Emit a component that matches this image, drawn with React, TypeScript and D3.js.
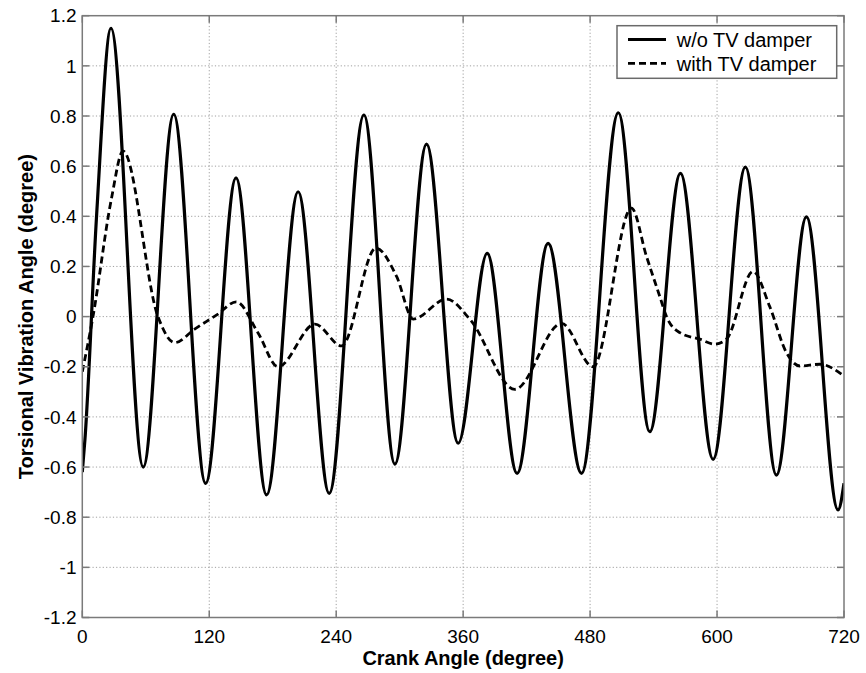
import React, { useEffect } from "react";
import * as d3 from "d3";

const xTicks = [0, 120, 240, 360, 480, 600, 720];
const yTicks = [-1.2, -1, -0.8, -0.6, -0.4, -0.2, 0, 0.2, 0.4, 0.6, 0.8, 1, 1.2];

// w/o TV damper (solid)
const solidX = [0, 2.5, 13.6, 27.1, 57.6, 86.4, 116.6, 145.3, 174.2, 204, 233.4, 266.2, 295.5, 325.4, 355.3, 382.7, 411, 440.3, 471.9, 506.7, 536.4, 565.4, 596.3, 626.8, 656.1, 684.5, 714.4, 720];
const solidY = [-0.62, -0.49, 0.41, 1.15, -0.6, 0.807, -0.665, 0.553, -0.711, 0.498, -0.705, 0.804, -0.588, 0.688, -0.505, 0.252, -0.625, 0.292, -0.625, 0.813, -0.459, 0.571, -0.569, 0.596, -0.632, 0.398, -0.771, -0.665];

// with TV damper (dashed)
const dashedX = [0, 10.1, 27.4, 38.5, 71.5, 87.3, 106.2, 128.2, 145.5, 166, 185, 219.9, 245.1, 277.5, 297.1, 312.8, 344.3, 366.3, 408.9, 453, 482.8, 519.1, 533.3, 545.9, 552.2, 564.8, 583.7, 597.9, 608.9, 634, 649.8, 665.6, 678.2, 697.1, 720];
const dashedY = [-0.22, 0, 0.467, 0.66, 0, -0.104, -0.05, 0.01, 0.059, -0.064, -0.2, -0.03, -0.117, 0.273, 0.16, -0.01, 0.07, -0.01, -0.29, -0.027, -0.2, 0.433, 0.24, 0.08, 0.0, -0.064, -0.09, -0.11, -0.09, 0.18, 0.04, -0.144, -0.197, -0.19, -0.237];

const seriesNames = ["w/o TV damper", "with TV damper"];
const xTitle = "Crank Angle (degree)";
const yTitle = "Torsional Vibration Angle (degree)";

const W = 866;
const H = 673;
const L = 82.3, R = 844, T = 15.7, B = 617.5;

export default function App() {
  useEffect(() => {
    document.body.style.margin = "0";
  }, []);
  const x = d3.scaleLinear().domain([0, 720]).range([L, R]);
  const y = d3.scaleLinear().domain([-1.2, 1.2]).range([B, T]);
  const line = d3
    .line<[number, number]>()
    .x((d) => x(d[0]))
    .y((d) => y(d[1]))
    .curve(d3.curveMonotoneX);
  const solid = solidX.map((v, i) => [v, solidY[i]] as [number, number]);
  const dashed = dashedX.map((v, i) => [v, dashedY[i]] as [number, number]);
  const font = "'Liberation Sans', Arial, Helvetica, sans-serif";
  const frame = "#7a7a7a";
  const grid = "#a0a0a0";
  const fmt = (v: number) => String(Math.round(v * 10) / 10);

  return (
    <svg
      width={W}
      height={H}
      style={{ position: "absolute", left: 0, top: 0, background: "#fff" }}
      fontFamily={font}
    >
      <rect x={0} y={0} width={W} height={H} fill="#fff" />
      <defs>
        <clipPath id="plot">
          <rect x={L} y={T} width={R - L} height={B - T} />
        </clipPath>
      </defs>
      {/* grid */}
      <g stroke={grid} strokeWidth={1} strokeDasharray="1.2,2.2">
        {xTicks.slice(1, -1).map((t) => (
          <line key={"gx" + t} x1={x(t)} x2={x(t)} y1={T} y2={B} />
        ))}
        {yTicks.slice(1, -1).map((t) => (
          <line key={"gy" + t} x1={L} x2={R} y1={y(t)} y2={y(t)} />
        ))}
      </g>
      {/* curves */}
      <g clipPath="url(#plot)" fill="none" stroke="#000" strokeLinejoin="round">
        <path d={line(dashed) || ""} strokeWidth={2.8} strokeDasharray="7,4" />
        <path d={line(solid) || ""} strokeWidth={3.2} />
      </g>
      {/* frame */}
      <rect x={L} y={T} width={R - L} height={B - T} fill="none" stroke={frame} strokeWidth={1.5} />
      {/* ticks */}
      <g stroke={frame} strokeWidth={1.5}>
        {xTicks.map((t) => (
          <g key={"tx" + t}>
            <line x1={x(t)} x2={x(t)} y1={B} y2={B - 7} />
            <line x1={x(t)} x2={x(t)} y1={T} y2={T + 7} />
          </g>
        ))}
        {yTicks.map((t) => (
          <g key={"ty" + t}>
            <line x1={L} x2={L + 7} y1={y(t)} y2={y(t)} />
            <line x1={R} x2={R - 7} y1={y(t)} y2={y(t)} />
          </g>
        ))}
      </g>
      {/* tick labels */}
      <g fontSize={19} fill="#000">
        {xTicks.map((t) => (
          <text key={"lx" + t} x={x(t)} y={642.5} textAnchor="middle">
            {t}
          </text>
        ))}
        {yTicks.map((t) => (
          <text key={"ly" + t} x={76.5} y={y(t)} dy="0.35em" textAnchor="end">
            {fmt(t)}
          </text>
        ))}
      </g>
      {/* axis titles */}
      <text x={(L + R) / 2} y={665} textAnchor="middle" fontSize={20} fontWeight="bold">
        {xTitle}
      </text>
      <text
        transform={`translate(33, ${(T + B) / 2}) rotate(-90)`}
        textAnchor="middle"
        fontSize={20}
        fontWeight="bold"
      >
        {yTitle}
      </text>
      {/* legend */}
      <g>
        <rect x={617} y={25.7} width={219.7} height={52.6} fill="#fff" stroke="#6a6a6a" strokeWidth={1.5} />
        <line x1={628} x2={666} y1={39.5} y2={39.5} stroke="#000" strokeWidth={3.2} />
        <line x1={628} x2={666} y1={63.3} y2={63.3} stroke="#000" strokeWidth={2.8} strokeDasharray="7,4" />
        <text x={676.7} y={46.7} fontSize={20}>
          {seriesNames[0]}
        </text>
        <text x={676.7} y={70.5} fontSize={20}>
          {seriesNames[1]}
        </text>
      </g>
    </svg>
  );
}
